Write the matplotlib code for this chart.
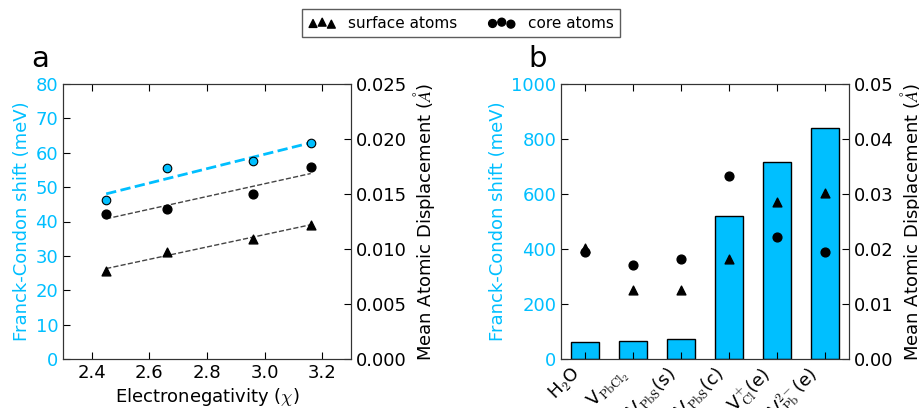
import numpy as np
import matplotlib
matplotlib.use("Agg")
import matplotlib.pyplot as plt

CYAN = "#00BFFF"

# Panel a data
chi = [2.45, 2.66, 2.96, 3.16]
fc_shift_a = [46.2, 55.5, 57.6, 62.8]
core_a = [0.01318, 0.01364, 0.01497, 0.01748]
surf_a = [0.00803, 0.00973, 0.01094, 0.01221]

# Panel b data
cats = [r"H$_{\mathsf{2}}$O", r"V$_{\rm PbCl_2}$", r"V$_{\rm PbS}$(s)", r"V$_{\rm PbS}$(c)",
        r"V$^{+}_{\rm Cl}$(e)", r"V$^{2-}_{\rm Pb}$(e)"]
fc_shift_b = [62, 64, 73, 521, 715, 840]
core_b = [0.01945, 0.01715, 0.01812, 0.0333, 0.02212, 0.01945]
surf_b = [0.0202, 0.01255, 0.01255, 0.0182, 0.0286, 0.0302]

plt.rcParams['font.family'] = ['DejaVu Sans']
plt.rcParams['font.size'] = 13
plt.rcParams['mathtext.fontset'] = 'cm'

fig = plt.figure(figsize=(9.2, 4.08), dpi=100)

def style(ax):
    ax.tick_params(direction='in', length=5, width=0.8, labelsize=13)
    for s in ax.spines.values():
        s.set_color('#333333')

# ---------- Panel a ----------
axa = fig.add_axes([63/920, 49/408, 288/920, 275/408])
axa2 = axa.twinx()
x = np.array(chi)
xf = np.array([chi[0], chi[-1]])
p = np.polyfit(x, fc_shift_a, 1)
axa.plot(xf, np.polyval(p, xf), ls='--', color=CYAN, lw=2, zorder=2)
axa.scatter(chi, fc_shift_a, s=38, color=CYAN, edgecolor='k', linewidth=0.8, zorder=3)
for vals, mk in [(core_a, 'o'), (surf_a, '^')]:
    p = np.polyfit(x, vals, 1)
    axa2.plot(xf, np.polyval(p, xf), ls='--', color='#444444', lw=1)
    axa2.scatter(chi, vals, s=40, color='k', marker=mk, zorder=3)
axa.set_xlim(2.3, 3.3)
axa.set_xticks([2.4, 2.6, 2.8, 3.0, 3.2])
axa.set_ylim(0, 80)
axa.set_yticks(range(0, 81, 10))
axa2.set_ylim(0, 0.025)
axa2.set_yticks(np.arange(0, 0.0251, 0.005))
axa2.set_yticklabels(["%.3f" % v for v in np.arange(0, 0.0251, 0.005)])
axa.set_xlabel(r"Electronegativity ($\chi$)", labelpad=3)
axa.set_ylabel("Franck-Condon shift (meV)", color=CYAN, labelpad=3)
axa2.set_ylabel(r"Mean Atomic Displacement ($\AA$)", labelpad=3)
style(axa); style(axa2)
axa.tick_params(axis='x', top=True)
axa.tick_params(axis='y', labelcolor=CYAN)
axa.text(-0.08, 1.04, "a", transform=axa.transAxes, fontsize=21, va='bottom', ha='center')

# ---------- Panel b ----------
axb = fig.add_axes([561/920, 49/408, 288/920, 275/408])
axb2 = axb.twinx()
pos = np.arange(len(cats))
axb.bar(pos, fc_shift_b, width=0.6, color=CYAN, edgecolor='k', linewidth=1, zorder=1)
axb2.scatter(pos, surf_b, s=40, color='k', marker='^', zorder=3)
axb2.scatter(pos, core_b, s=40, color='k', marker='o', zorder=4)
axb.set_xlim(-0.5, 5.5)
axb.set_xticks(pos)
axb.set_xticklabels(cats, rotation=45, ha='right', rotation_mode='default')
axb.set_ylim(0, 1000)
axb.set_yticks(range(0, 1001, 200))
axb2.set_ylim(0, 0.05)
axb2.set_yticks(np.arange(0, 0.051, 0.01))
axb2.set_yticklabels(["%.2f" % v for v in np.arange(0, 0.051, 0.01)])
axb.set_ylabel("Franck-Condon shift (meV)", color=CYAN, labelpad=3)
axb2.set_ylabel(r"Mean Atomic Displacement ($\AA$)", labelpad=3)
style(axb); style(axb2)
axb.tick_params(axis='x', top=True)
axb.tick_params(axis='y', labelcolor=CYAN)
axb.text(-0.08, 1.04, "b", transform=axb.transAxes, fontsize=21, va='bottom', ha='center')

# ---------- Legend ----------
h1 = axb2.scatter([], [], s=32, color='k', marker='^')
h2 = axb2.scatter([], [], s=32, color='k', marker='o')
leg = fig.legend([h1, h2], ["surface atoms", "core atoms"], loc='center',
                 bbox_to_anchor=(461/920, 1 - 23/408), ncol=2, scatterpoints=3,
                 fancybox=False, edgecolor='#333333', fontsize=11,
                 columnspacing=2.0, handlelength=1.8, handletextpad=0.8, borderpad=0.4)
leg.get_frame().set_linewidth(1)

fig.savefig("out.png", dpi=100)
